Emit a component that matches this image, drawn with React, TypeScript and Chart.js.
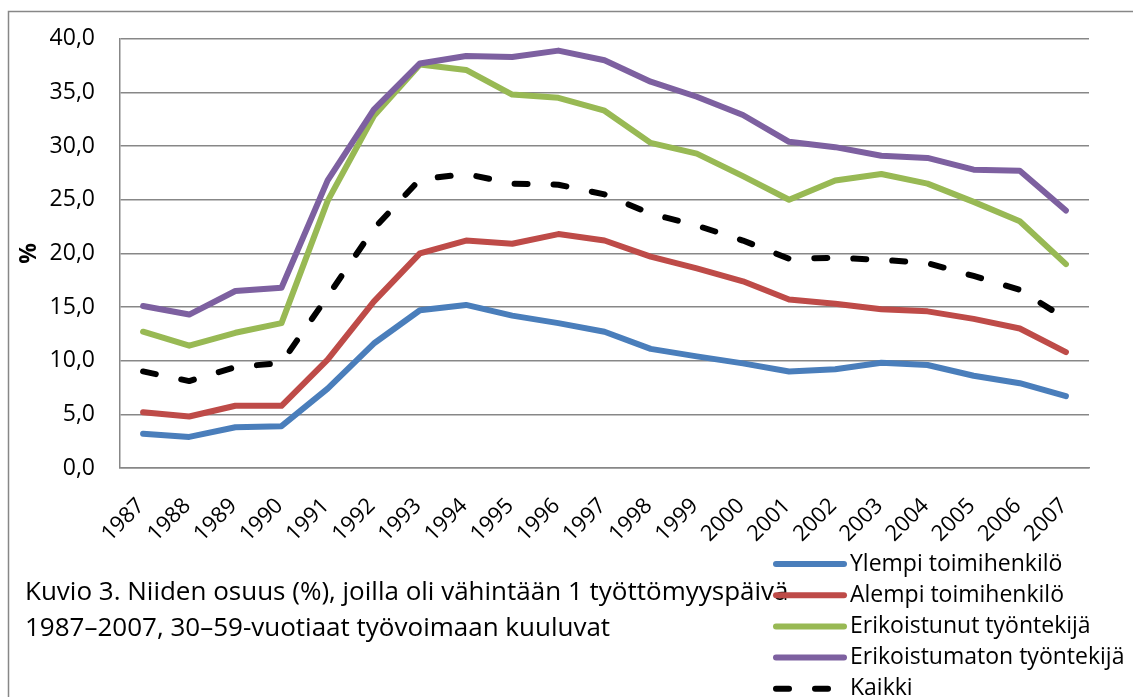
import React, { useEffect, useRef } from "react";
import { Chart, registerables } from "chart.js";

Chart.register(...registerables);

const years = [
  "1987", "1988", "1989", "1990", "1991", "1992", "1993", "1994", "1995", "1996", "1997",
  "1998", "1999", "2000", "2001", "2002", "2003", "2004", "2005", "2006", "2007",
];

const ylempi = [3.2, 2.9, 3.8, 3.9, 7.4, 11.6, 14.7, 15.2, 14.2, 13.5, 12.7, 11.1, 10.4, 9.75, 9.0, 9.2, 9.8, 9.6, 8.6, 7.9, 6.7];
const alempi = [5.2, 4.8, 5.8, 5.8, 10.1, 15.5, 20.0, 21.2, 20.9, 21.8, 21.2, 19.7, 18.6, 17.4, 15.7, 15.3, 14.8, 14.6, 13.9, 13.0, 10.8];
const erikoistunut = [12.7, 11.4, 12.6, 13.5, 24.9, 32.8, 37.6, 37.1, 34.8, 34.5, 33.3, 30.3, 29.3, 27.2, 25.0, 26.8, 27.4, 26.5, 24.8, 23.0, 19.0];
const erikoistumaton = [15.1, 14.3, 16.5, 16.8, 26.8, 33.4, 37.7, 38.4, 38.3, 38.9, 38.0, 36.0, 34.6, 32.9, 30.4, 29.9, 29.1, 28.9, 27.8, 27.7, 24.0];
const kaikki = [9.0, 8.1, 9.4, 9.8, 16.0, 22.3, 26.9, 27.4, 26.5, 26.4, 25.5, 23.7, 22.6, 21.2, 19.5, 19.6, 19.4, 19.1, 17.9, 16.6, 13.9];

const seriesLabels = [
  "Ylempi toimihenkilö",
  "Alempi toimihenkilö",
  "Erikoistunut työntekijä",
  "Erikoistumaton työntekijä",
  "Kaikki",
];
const seriesValues = [ylempi, alempi, erikoistunut, erikoistumaton, kaikki];
const seriesColors = ["#4a7ebb", "#be4b48", "#98b954", "#7d60a0", "#000000"];
const seriesDashes: number[][] = [[], [], [], [], [13, 26]];

const yMin = 0;
const yMax = 40;
const yStep = 5;
const yTitle = "%";
const captionLines = [
  "Kuvio 3. Niiden osuus (%), joilla oli vähintään 1 työttömyyspäivä",
  "1987–2007, 30–59-vuotiaat työvoimaan kuuluvat",
];

const FONT = '"Open Sans", "Noto Sans", sans-serif';
const FONT_SIZE = 23;
const X_FONT_SIZE = 22;
const CAPTION_SIZE = 26;
const GRID = "#878787";

const decorPlugin = {
  id: "decor",
  beforeDraw(chart: any) {
    const ctx = chart.ctx;
    ctx.save();
    ctx.fillStyle = "#ffffff";
    ctx.fillRect(0, 0, chart.width, chart.height);
    ctx.strokeStyle = GRID;
    ctx.lineWidth = 1.5;
    ctx.strokeRect(8.5, 11.5, chart.width + 50, chart.height + 50);
    ctx.restore();
  },
  afterDraw(chart: any) {
    const ctx = chart.ctx;
    ctx.save();
    ctx.fillStyle = "#000";
    ctx.textBaseline = "middle";
    ctx.textAlign = "left";
    ctx.font = `${CAPTION_SIZE}px ${FONT}`;
    captionLines.forEach((line, i) => {
      ctx.fillText(line, 25, 593 + i * 36);
    });
    ctx.font = `${FONT_SIZE}px ${FONT}`;
    chart.data.datasets.forEach((ds: any, i: number) => {
      const y = 564 + i * 31.2;
      ctx.save();
      ctx.strokeStyle = ds.borderColor;
      ctx.lineWidth = ds.borderWidth;
      ctx.lineCap = "round";
      ctx.setLineDash(ds.borderDash || []);
      ctx.beginPath();
      ctx.moveTo(776, y);
      ctx.lineTo(844, y);
      ctx.stroke();
      ctx.restore();
      ctx.fillText(ds.label, 850, y);
    });
    ctx.restore();
  },
};

export default function App() {
  const canvasRef = useRef<HTMLCanvasElement>(null);

  useEffect(() => {
    if (!canvasRef.current) return;
    const chart = new Chart(canvasRef.current, {
      type: "line",
      data: {
        labels: years,
        datasets: seriesLabels.map((label, i) => ({
          label,
          data: seriesValues[i],
          borderColor: seriesColors[i],
          backgroundColor: seriesColors[i],
          borderWidth: 6,
          borderDash: seriesDashes[i],
          borderCapStyle: "round",
          borderJoinStyle: "round",
          pointRadius: 0,
          tension: 0,
          fill: false,
          order: seriesLabels.length - 1 - i,
        })),
      },
      options: {
        animation: false,
        responsive: true,
        maintainAspectRatio: false,
        layout: { padding: { left: 0, right: 44, top: 28, bottom: 0 } },
        plugins: {
          legend: { display: false },
          tooltip: { enabled: false },
        },
        scales: {
          x: {
            offset: true,
            grid: { display: false },
            border: { display: true, color: GRID, width: 1.5 },
            ticks: {
              autoSkip: false,
              minRotation: 45,
              maxRotation: 45,
              padding: 17,
              labelOffset: -2,
              color: "#000",
              font: { family: FONT, size: X_FONT_SIZE },
            },
            afterFit: (scale: any) => {
              scale.height = 229;
            },
          },
          y: {
            min: yMin,
            max: yMax,
            grid: { color: GRID, lineWidth: 1.5, drawTicks: false },
            border: { display: true, color: GRID, width: 1.5 },
            ticks: {
              stepSize: yStep,
              padding: 25,
              color: "#000",
              font: { family: FONT, size: FONT_SIZE },
              callback: (v: any) => Number(v).toFixed(1).replace(".", ","),
            },
            title: {
              display: true,
              text: yTitle,
              color: "#000",
              font: { family: FONT, size: FONT_SIZE, weight: "bold" },
              padding: { top: 16, bottom: 0 },
            },
            afterFit: (scale: any) => {
              scale.width = 120;
            },
          },
        },
      },
      plugins: [decorPlugin],
    });
    return () => chart.destroy();
  }, []);

  return (
    <div style={{ position: "fixed", left: 0, top: 0, width: 1133, height: 697, background: "#fff" }}>
      <canvas ref={canvasRef} />
    </div>
  );
}
